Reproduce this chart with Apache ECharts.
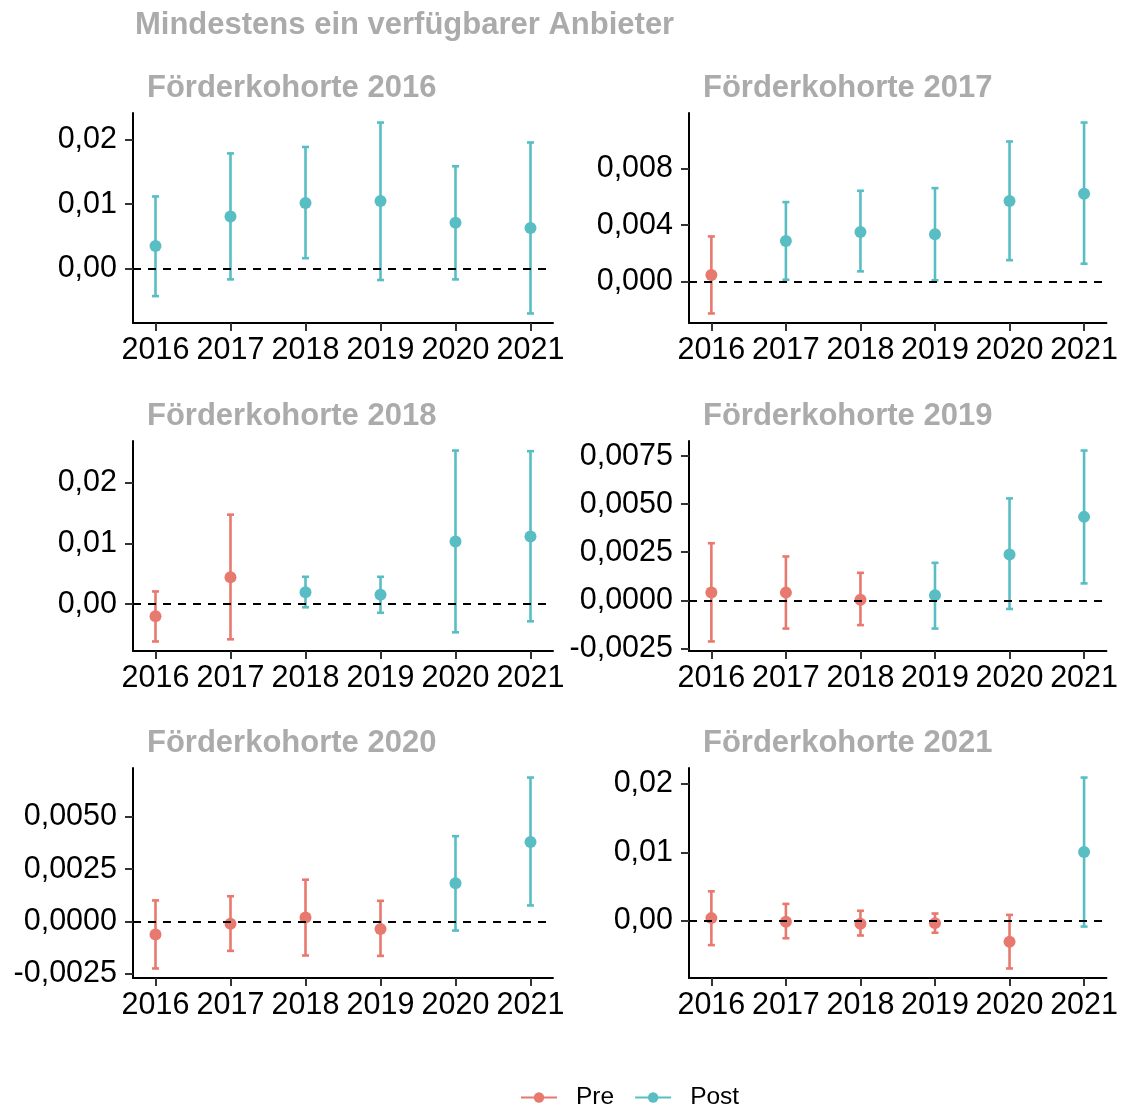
<!DOCTYPE html>
<html>
<head>
<meta charset="utf-8">
<script src="https://cdn.jsdelivr.net/npm/echarts@6/dist/echarts.min.js"></script>
<style>
  html, body { margin: 0; padding: 0; background: #fff; }
  #main { width: 1121px; height: 1108px; }
</style>
</head>
<body>
<div id="main"></div>
<script>
// Jahre und Kohorten
const years = [2016, 2017, 2018, 2019, 2020, 2021];
const cohorts = [2016, 2017, 2018, 2019, 2020, 2021];

// Punktschaetzer je Kohorte
const est2016 = [0.0035, 0.0081, 0.0102, 0.0105, 0.0071, 0.0063];
const est2017 = [0.00047, 0.00288, 0.00352, 0.00335, 0.0057, 0.00622];
const est2018 = [-0.00195, 0.00444, 0.00195, 0.00157, 0.0103, 0.0111];
const est2019 = [0.00041, 0.0004, 0.00003, 0.00026, 0.00238, 0.00434];
const est2020 = [-0.00062, -0.00011, 0.00019, -0.00035, 0.00183, 0.0038];
const est2021 = [0.00043, -0.0001, -0.0004, -0.0003, -0.003, 0.01005];

// untere Grenzen
const lo2016 = [-0.0043, -0.0017, 0.0016, -0.0018, -0.0017, -0.0070];
const lo2017 = [-0.00225, 0.00014, 0.00073, 0.0001, 0.00152, 0.00127];
const lo2018 = [-0.0061, -0.00575, -0.0005, -0.0014, -0.0046, -0.0028];
const lo2019 = [-0.00214, -0.00147, -0.00129, -0.00147, -0.00045, 0.00088];
const lo2020 = [-0.00224, -0.0014, -0.00162, -0.00164, -0.00043, 0.00077];
const lo2021 = [-0.0035, -0.0025, -0.0021, -0.0017, -0.0069, -0.0008];

// obere Grenzen
const hi2016 = [0.0112, 0.0179, 0.0189, 0.0227, 0.0159, 0.0196];
const hi2017 = [0.0032, 0.00563, 0.00643, 0.00662, 0.00992, 0.01126];
const hi2018 = [0.0021, 0.01469, 0.0045, 0.0045, 0.0252, 0.0251];
const hi2019 = [0.00297, 0.00228, 0.00143, 0.00195, 0.0053, 0.00779];
const hi2020 = [0.00101, 0.00121, 0.002, 0.00099, 0.00408, 0.00688];
const hi2021 = [0.00433, 0.0025, 0.0015, 0.0011, 0.0009, 0.0209];

// y-Achsen Ticks
const ticks2016 = [0, 0.01, 0.02];
const ticks2017 = [0, 0.004, 0.008];
const ticks2018 = [0, 0.01, 0.02];
const ticks2019 = [-0.0025, 0, 0.0025, 0.005, 0.0075];
const ticks2020 = [-0.0025, 0, 0.0025, 0.005];
const ticks2021 = [0, 0.01, 0.02];
const tickDecimals = [2, 3, 2, 4, 4, 2];

const estimates = [est2016, est2017, est2018, est2019, est2020, est2021];
const lower = [lo2016, lo2017, lo2018, lo2019, lo2020, lo2021];
const upper = [hi2016, hi2017, hi2018, hi2019, hi2020, hi2021];
const yTicks = [ticks2016, ticks2017, ticks2018, ticks2019, ticks2020, ticks2021];

const PRE = '#E8796E';
const POST = '#58BEC4';
const FONT = '"Liberation Sans", Arial, sans-serif';
const GRAY = '#ABABAB';

const colLeft = [133, 689];
const rowTop = [113, 441, 768];

function errorBar(color) {
  return function (params, api) {
    const x = api.value(0);
    const a = api.coord([x, api.value(1)]);
    const b = api.coord([x, api.value(2)]);
    const w = 3.5;
    const style = { stroke: color, lineWidth: 2.6 };
    return {
      type: 'group',
      children: [
        { type: 'line', shape: { x1: a[0], y1: a[1], x2: b[0], y2: b[1] }, style: style },
        { type: 'line', shape: { x1: a[0] - w, y1: a[1], x2: a[0] + w, y2: a[1] }, style: style },
        { type: 'line', shape: { x1: b[0] - w, y1: b[1], x2: b[0] + w, y2: b[1] }, style: style }
      ]
    };
  };
}

const grids = [], xAxes = [], yAxes = [];
const titles = [{
  text: 'Mindestens ein verfügbarer Anbieter',
  left: 130, top: 5,
  textStyle: { fontFamily: FONT, fontSize: 31, fontWeight: 'bold', color: GRAY }
}];
const series = [
  { name: 'Pre', type: 'line', data: [], symbol: 'circle', color: PRE, lineStyle: { width: 2.6 } },
  { name: 'Post', type: 'line', data: [], symbol: 'circle', color: POST, lineStyle: { width: 2.6 } }
];

cohorts.forEach(function (c, p) {
  const col = p % 2, row = Math.floor(p / 2);
  grids.push({ left: colLeft[col], top: rowTop[row], width: 420, height: 210 });
  titles.push({
    text: 'Förderkohorte ' + c,
    left: colLeft[col] + 9, top: rowTop[row] - 45,
    textStyle: { fontFamily: FONT, fontSize: 31, fontWeight: 'bold', color: GRAY }
  });

  const lo = Math.min.apply(null, lower[p]);
  const hi = Math.max.apply(null, upper[p]);
  const pad = (hi - lo) * 0.05;
  const d = tickDecimals[p];

  xAxes.push({
    type: 'value', gridIndex: p, min: 2015.7, max: 2021.3,
    splitLine: { show: false },
    axisLine: { onZero: false, lineStyle: { color: '#000', width: 2 } },
    axisTick: { customValues: years, length: 8, lineStyle: { color: '#333', width: 2 } },
    axisLabel: {
      customValues: years, showMinLabel: true, showMaxLabel: true, hideOverlap: false,
      margin: 12, fontFamily: FONT, fontSize: 30.5, color: '#000',
      formatter: function (v) { return String(v); }
    }
  });
  yAxes.push({
    type: 'value', gridIndex: p, min: lo - pad, max: hi + pad,
    splitLine: { show: false },
    axisLine: { show: true, onZero: false, lineStyle: { color: '#000', width: 2 } },
    axisTick: { show: true, customValues: yTicks[p], length: 8, lineStyle: { color: '#333', width: 2 } },
    axisLabel: {
      customValues: yTicks[p], margin: 16, fontFamily: FONT, fontSize: 30.5, color: '#000',
      formatter: function (v) { return v.toFixed(d).replace('.', ','); }
    }
  });

  ['Pre', 'Post'].forEach(function (phase) {
    const color = phase === 'Pre' ? PRE : POST;
    const bars = [], pts = [];
    years.forEach(function (y, i) {
      if ((y < c ? 'Pre' : 'Post') !== phase) return;
      bars.push([y, lower[p][i], upper[p][i]]);
      pts.push([y, estimates[p][i]]);
    });
    if (!pts.length) return;
    series.push({
      name: phase, type: 'custom', xAxisIndex: p, yAxisIndex: p,
      data: bars, encode: { x: 0, y: [1, 2] },
      renderItem: errorBar(color), z: 2
    });
    const sc = {
      name: phase, type: 'scatter', xAxisIndex: p, yAxisIndex: p,
      data: pts, symbolSize: 12, itemStyle: { color: color, opacity: 1 }, z: 3
    };
    if (phase === 'Post') {
      sc.markLine = {
        silent: true, symbol: 'none', label: { show: false },
        lineStyle: { type: [8, 7], color: '#000', width: 2.2 },
        data: [{ yAxis: 0 }]
      };
    }
    series.push(sc);
  });
});

const chart = echarts.init(document.getElementById('main'));
chart.setOption({
  animation: false,
  backgroundColor: '#fff',
  title: titles,
  grid: grids,
  xAxis: xAxes,
  yAxis: yAxes,
  legend: {
    data: ['Pre', 'Post'],
    left: 515, top: 1080,
    itemWidth: 36, itemHeight: 13, itemGap: 20,
    textStyle: { fontFamily: FONT, fontSize: 24.5, color: '#000', padding: [0, 0, 0, 14] }
  },
  series: series
});
</script>
</body>
</html>
